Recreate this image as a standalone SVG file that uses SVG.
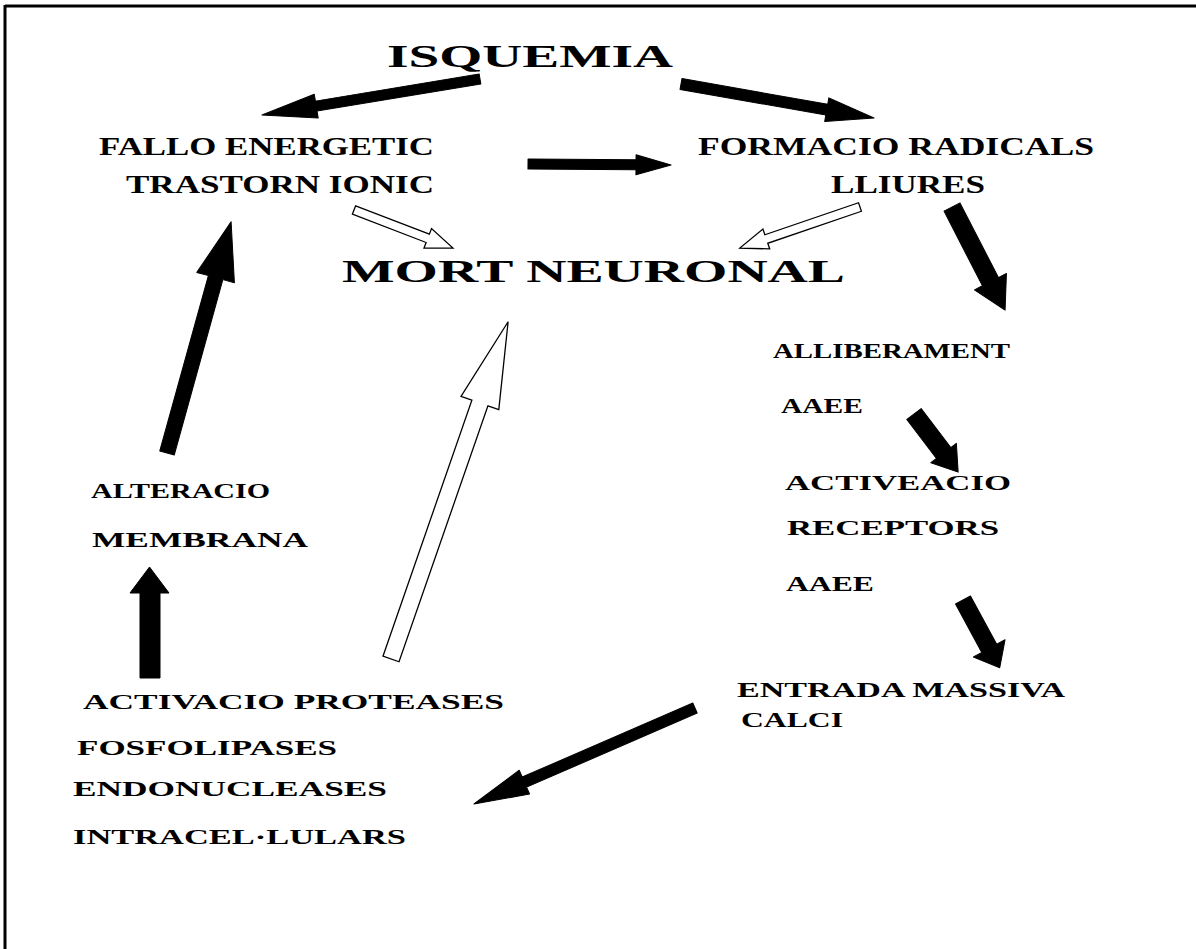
<svg xmlns="http://www.w3.org/2000/svg" width="1196" height="949" viewBox="0 0 1196 949">
<style>
text{font-family:"Liberation Serif","Times New Roman",serif;font-weight:bold;fill:#000;}
.t{font-size:25px;}
.s{font-size:20px;}
.big{font-size:32px;}
.solid{fill:#000;stroke:#000;stroke-width:1;stroke-linejoin:round;}
.open{fill:#fff;stroke:#000;stroke-width:1.3;stroke-linejoin:miter;}
.frame{stroke:#000;stroke-width:3;fill:none;}
</style>
<rect x="0" y="0" width="1196" height="949" fill="#fff"/>
<g id="frame">
<line class="frame" x1="5" y1="6" x2="1196" y2="6"/>
<line class="frame" x1="5" y1="5" x2="5" y2="949"/>
</g>
<g id="connectors">
<!-- ISQUEMIA -> FALLO -->
<g transform="translate(480,79) rotate(170.62)"><polygon class="solid" points="0,-5 166,-5 166,-12 221,0 166,12 166,5 0,5"/></g>
<!-- ISQUEMIA -> FORMACIO -->
<g transform="translate(681,84) rotate(9.99)"><polygon class="solid" points="0,-5.5 148,-5.5 148,-12 196,0 148,12 148,5.5 0,5.5"/></g>
<!-- FALLO -> FORMACIO -->
<g transform="translate(528,164) rotate(0.4)"><polygon class="solid" points="0,-5 108,-5 108,-10 143,0 108,10 108,5 0,5"/></g>
<!-- LLIURES -> ALLIBERAMENT -->
<g transform="translate(952,207) rotate(62.77)"><polygon class="solid" points="0,-9 84,-9 84,-18 116,0 84,18 84,9 0,9"/></g>
<!-- AAEE -> ACTIVEACIO -->
<g transform="translate(914,414) rotate(52.8)"><polygon class="solid" points="0,-9 49,-9 49,-16 73,0 49,16 49,9 0,9"/></g>
<!-- AAEE -> ENTRADA -->
<g transform="translate(963,600) rotate(61.5)"><polygon class="solid" points="0,-8.5 55,-8.5 55,-18 77,0 55,18 55,8.5 0,8.5"/></g>
<!-- ENTRADA -> ENDONUCLEASES -->
<g transform="translate(695,708) rotate(156.52)"><polygon class="solid" points="0,-5.5 186,-5.5 186,-13 241,0 186,13 186,5.5 0,5.5"/></g>
<!-- ACTIVACIO -> MEMBRANA -->
<polygon class="solid" points="140,678 140,593 130,593 149.5,567 169,593 160,593 160,678"/>
<!-- ALTERACIO -> TRASTORN -->
<g transform="translate(167,453) rotate(-74.51)"><polygon class="solid" points="0,-7.5 182,-7.5 182,-19.5 240,0 182,19.5 182,7.5 0,7.5"/></g>
<!-- open: TRASTORN -> MORT -->
<g transform="translate(354,210) rotate(21)"><polygon class="open" points="0,-4.5 79,-4.5 79,-10.5 106,0 79,10.5 79,4.5 0,4.5"/></g>
<!-- open: LLIURES -> MORT -->
<g transform="translate(860,207) rotate(161.14)"><polygon class="open" points="0,-4.5 99,-4.5 99,-10.5 127,0 99,10.5 99,4.5 0,4.5"/></g>
<!-- open: ACTIVACIO -> MORT -->
<g transform="translate(391,659) rotate(-70.85)"><polygon class="open" points="0,-8.5 271,-8.5 271,-20 357,0 271,20 271,8.5 0,8.5"/></g>
</g>
<g id="n-isquemia"><text class="big" x="387" y="67" textLength="286" lengthAdjust="spacingAndGlyphs">ISQUEMIA</text></g>
<g id="n-fallo">
<text class="t" x="99" y="155" textLength="335" lengthAdjust="spacingAndGlyphs">FALLO ENERGETIC</text>
<text class="t" x="126" y="193" textLength="308" lengthAdjust="spacingAndGlyphs">TRASTORN IONIC</text>
</g>
<g id="n-formacio">
<text class="t" x="698" y="155" textLength="396" lengthAdjust="spacingAndGlyphs">FORMACIO RADICALS</text>
<text class="t" x="831" y="193" textLength="154" lengthAdjust="spacingAndGlyphs">LLIURES</text>
</g>
<g id="n-mort"><text class="big" style="font-size:31px" x="342" y="282" textLength="503" lengthAdjust="spacingAndGlyphs">MORT NEURONAL</text></g>
<g id="n-alliberament">
<text class="s" x="773" y="358" textLength="237" lengthAdjust="spacingAndGlyphs">ALLIBERAMENT</text>
<text class="s" x="781" y="413" textLength="82" lengthAdjust="spacingAndGlyphs">AAEE</text>
</g>
<g id="n-activeacio">
<text class="s" x="785" y="490" textLength="226" lengthAdjust="spacingAndGlyphs">ACTIVEACIO</text>
<text class="s" x="787" y="535" textLength="212" lengthAdjust="spacingAndGlyphs">RECEPTORS</text>
<text class="s" x="786" y="591" textLength="88" lengthAdjust="spacingAndGlyphs">AAEE</text>
</g>
<g id="n-entrada">
<text class="s" x="737" y="697" textLength="328" lengthAdjust="spacingAndGlyphs">ENTRADA MASSIVA</text>
<text class="s" x="741" y="727" textLength="102" lengthAdjust="spacingAndGlyphs">CALCI</text>
</g>
<g id="n-alteracio">
<text class="s" x="91" y="498" textLength="179" lengthAdjust="spacingAndGlyphs">ALTERACIO</text>
<text class="s" x="92" y="547" textLength="216" lengthAdjust="spacingAndGlyphs">MEMBRANA</text>
</g>
<g id="n-activacio">
<text class="s" x="83" y="709" textLength="421" lengthAdjust="spacingAndGlyphs">ACTIVACIO PROTEASES</text>
<text class="s" x="77" y="755" textLength="260" lengthAdjust="spacingAndGlyphs">FOSFOLIPASES</text>
<text class="s" x="73" y="796" textLength="314" lengthAdjust="spacingAndGlyphs">ENDONUCLEASES</text>
<text class="s" x="73" y="844" textLength="333" lengthAdjust="spacingAndGlyphs">INTRACEL·LULARS</text>
</g>
</svg>
